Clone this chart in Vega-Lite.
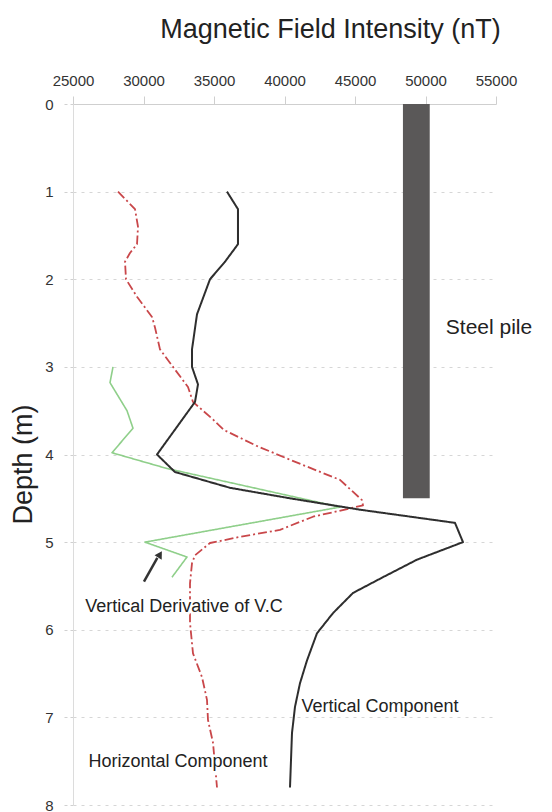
{
  "$schema": "https://vega.github.io/schema/vega-lite/v6.json",
  "autosize": {"type": "none"},
  "width": 423,
  "height": 701,
  "padding": {"left": 73, "top": 104, "right": 56, "bottom": 7},
  "background": "white",
  "config": {
    "view": {"stroke": null},
    "font": "Liberation Sans",
    "axis": {"labelFont": "Liberation Sans", "titleFont": "Liberation Sans", "labelColor": "#333", "titleColor": "#222", "titleFontWeight": "normal"}
  },
  "datasets": {
    "curves": [
      {"series": "Vertical Derivative of V.C", "depth": 3.0, "nT": 27837},
      {"series": "Vertical Derivative of V.C", "depth": 3.18, "nT": 27624},
      {"series": "Vertical Derivative of V.C", "depth": 3.5, "nT": 28830},
      {"series": "Vertical Derivative of V.C", "depth": 3.7, "nT": 29255},
      {"series": "Vertical Derivative of V.C", "depth": 3.98, "nT": 27766},
      {"series": "Vertical Derivative of V.C", "depth": 4.16, "nT": 31667},
      {"series": "Vertical Derivative of V.C", "depth": 4.6, "nT": 43936},
      {"series": "Vertical Derivative of V.C", "depth": 5.0, "nT": 30106},
      {"series": "Vertical Derivative of V.C", "depth": 5.17, "nT": 33085},
      {"series": "Vertical Derivative of V.C", "depth": 5.4, "nT": 32021},
      {"series": "Horizontal Component", "depth": 1.0, "nT": 28191},
      {"series": "Horizontal Component", "depth": 1.2, "nT": 29397},
      {"series": "Horizontal Component", "depth": 1.4, "nT": 29610},
      {"series": "Horizontal Component", "depth": 1.6, "nT": 29540},
      {"series": "Horizontal Component", "depth": 1.7, "nT": 29042},
      {"series": "Horizontal Component", "depth": 1.8, "nT": 28688},
      {"series": "Horizontal Component", "depth": 2.0, "nT": 28759},
      {"series": "Horizontal Component", "depth": 2.2, "nT": 29539},
      {"series": "Horizontal Component", "depth": 2.43, "nT": 30603},
      {"series": "Horizontal Component", "depth": 2.55, "nT": 30815},
      {"series": "Horizontal Component", "depth": 2.8, "nT": 31170},
      {"series": "Horizontal Component", "depth": 3.0, "nT": 32092},
      {"series": "Horizontal Component", "depth": 3.23, "nT": 33156},
      {"series": "Horizontal Component", "depth": 3.4, "nT": 33510},
      {"series": "Horizontal Component", "depth": 3.6, "nT": 34929},
      {"series": "Horizontal Component", "depth": 3.72, "nT": 35700},
      {"series": "Horizontal Component", "depth": 3.9, "nT": 38000},
      {"series": "Horizontal Component", "depth": 4.06, "nT": 40390},
      {"series": "Horizontal Component", "depth": 4.29, "nT": 43936},
      {"series": "Horizontal Component", "depth": 4.52, "nT": 45496},
      {"series": "Horizontal Component", "depth": 4.58, "nT": 45567},
      {"series": "Horizontal Component", "depth": 4.61, "nT": 44787},
      {"series": "Horizontal Component", "depth": 4.71, "nT": 42021},
      {"series": "Horizontal Component", "depth": 4.86, "nT": 39680},
      {"series": "Horizontal Component", "depth": 4.94, "nT": 36844},
      {"series": "Horizontal Component", "depth": 5.01, "nT": 34716},
      {"series": "Horizontal Component", "depth": 5.15, "nT": 33652},
      {"series": "Horizontal Component", "depth": 5.24, "nT": 33440},
      {"series": "Horizontal Component", "depth": 5.47, "nT": 33298},
      {"series": "Horizontal Component", "depth": 5.92, "nT": 33298},
      {"series": "Horizontal Component", "depth": 6.27, "nT": 33510},
      {"series": "Horizontal Component", "depth": 6.54, "nT": 34149},
      {"series": "Horizontal Component", "depth": 6.8, "nT": 34503},
      {"series": "Horizontal Component", "depth": 7.03, "nT": 34574},
      {"series": "Horizontal Component", "depth": 7.29, "nT": 34929},
      {"series": "Horizontal Component", "depth": 7.8, "nT": 35213},
      {"series": "Vertical Component", "depth": 1.0, "nT": 35920},
      {"series": "Vertical Component", "depth": 1.2, "nT": 36700},
      {"series": "Vertical Component", "depth": 1.6, "nT": 36700},
      {"series": "Vertical Component", "depth": 1.8, "nT": 35780},
      {"series": "Vertical Component", "depth": 2.0, "nT": 34716},
      {"series": "Vertical Component", "depth": 2.4, "nT": 33794},
      {"series": "Vertical Component", "depth": 2.8, "nT": 33440},
      {"series": "Vertical Component", "depth": 3.0, "nT": 33440},
      {"series": "Vertical Component", "depth": 3.2, "nT": 33865},
      {"series": "Vertical Component", "depth": 3.4, "nT": 33652},
      {"series": "Vertical Component", "depth": 4.0, "nT": 30957},
      {"series": "Vertical Component", "depth": 4.2, "nT": 32234},
      {"series": "Vertical Component", "depth": 4.38, "nT": 36134},
      {"series": "Vertical Component", "depth": 4.5, "nT": 40390},
      {"series": "Vertical Component", "depth": 4.63, "nT": 45354},
      {"series": "Vertical Component", "depth": 4.78, "nT": 52091},
      {"series": "Vertical Component", "depth": 5.0, "nT": 52659},
      {"series": "Vertical Component", "depth": 5.2, "nT": 49400},
      {"series": "Vertical Component", "depth": 5.4, "nT": 46985},
      {"series": "Vertical Component", "depth": 5.58, "nT": 44858},
      {"series": "Vertical Component", "depth": 5.81, "nT": 43440},
      {"series": "Vertical Component", "depth": 6.04, "nT": 42305},
      {"series": "Vertical Component", "depth": 6.35, "nT": 41595},
      {"series": "Vertical Component", "depth": 6.61, "nT": 41099},
      {"series": "Vertical Component", "depth": 6.88, "nT": 40744},
      {"series": "Vertical Component", "depth": 7.18, "nT": 40531},
      {"series": "Vertical Component", "depth": 7.8, "nT": 40390}
    ],
    "pile": [{"name": "Steel pile", "x1": 48400, "x2": 50300, "top": 0, "bottom": 4.5}],
    "labels": [
      {"label": "Steel pile", "nT": 54503, "depth": 2.56},
      {"label": "Vertical Derivative of V.C", "nT": 32872, "depth": 5.74},
      {"label": "Horizontal Component", "nT": 32447, "depth": 7.51},
      {"label": "Vertical Component", "nT": 46772, "depth": 6.88}
    ],
    "arrow": [{"nT": 30035, "depth": 5.45, "nT2": 30980, "depth2": 5.18, "hx": 31170, "hy": 5.14}]
  },
  "encoding": {
    "y": {
      "type": "quantitative",
      "scale": {"domain": [0, 8], "reverse": true, "nice": false},
      "axis": {
        "title": "Depth (m)",
        "titleFontSize": 27,
        "titleX": -36,
        "titleY": 360,
        "values": [0, 0.5, 1, 1.5, 2, 2.5, 3, 3.5, 4, 4.5, 5, 5.5, 6, 6.5, 7, 7.5, 8],
        "format": "d",
        "labelExpr": "datum.value % 1 == 0 ? datum.label : ''",
        "labelFlush": false,
        "labelFontSize": 15,
        "labelPadding": 10,
        "grid": true,
        "gridDash": [3, 5],
        "gridColor": "#d6d6d6",
        "gridOpacity": {"condition": {"test": "datum.value % 1 != 0", "value": 0}, "value": 1},
        "tickSize": {"condition": {"test": "datum.value % 1 != 0", "value": 4}, "value": 10},
        "tickColor": "#d0d0d0",
        "tickDash": {"condition": {"test": "datum.value % 1 != 0", "value": []}, "value": [3, 3]},
        "domainColor": "#dcdcdc"
      }
    }
  },
  "layer": [
    {
      "data": {"name": "pile"},
      "mark": {"type": "rect", "color": "#5a5858"},
      "encoding": {
        "x": {"field": "x1", "type": "quantitative", "scale": {"domain": [25000, 55000], "nice": false},
          "axis": {
            "orient": "top",
            "title": "Magnetic Field Intensity (nT)",
            "titleFontSize": 27,
            "titleX": 257,
            "titleY": -67,
            "titleAlign": "center",
            "titleBaseline": "alphabetic",
            "values": [25000, 27500, 30000, 32500, 35000, 37500, 40000, 42500, 45000, 47500, 50000, 52500, 55000],
            "format": "d",
            "labelExpr": "datum.value % 5000 == 0 ? datum.label : ''",
            "labelFlush": false,
            "labelFontSize": 15,
            "labelPadding": 8,
            "tickSize": 8,
            "tickColor": "#cfcfcf",
            "domainColor": "#cfcfcf",
            "grid": false
          }},
        "x2": {"field": "x2"},
        "y": {"field": "top", "type": "quantitative"},
        "y2": {"field": "bottom"}
      }
    },
    {
      "data": {"name": "curves"},
      "mark": {"type": "line", "strokeJoin": "round"},
      "encoding": {
        "x": {"field": "nT", "type": "quantitative"},
        "y": {"field": "depth", "type": "quantitative"},
        "order": {"field": "depth"},
        "color": {"field": "series", "type": "nominal", "legend": null,
          "scale": {"domain": ["Vertical Derivative of V.C", "Horizontal Component", "Vertical Component"], "range": ["#8fcf8a", "#c9474a", "#2e2e2e"]}},
        "strokeDash": {"field": "series", "type": "nominal", "legend": null,
          "scale": {"domain": ["Vertical Derivative of V.C", "Horizontal Component", "Vertical Component"], "range": [[1, 0], [9, 3, 2, 3], [1, 0]]}},
        "strokeWidth": {"field": "series", "type": "nominal", "legend": null,
          "scale": {"domain": ["Vertical Derivative of V.C", "Horizontal Component", "Vertical Component"], "range": [1.6, 2, 2.6]}}
      }
    },
    {
      "data": {"name": "arrow"},
      "mark": {"type": "rule", "color": "#333", "strokeWidth": 2.5},
      "encoding": {
        "x": {"field": "nT", "type": "quantitative"},
        "y": {"field": "depth", "type": "quantitative"},
        "x2": {"field": "nT2"},
        "y2": {"field": "depth2"}
      }
    },
    {
      "data": {"name": "arrow"},
      "mark": {"type": "point", "shape": "triangle-up", "filled": true, "color": "#333", "size": 70, "angle": 31, "opacity": 1},
      "encoding": {
        "x": {"field": "hx", "type": "quantitative"},
        "y": {"field": "hy", "type": "quantitative"}
      }
    },
    {
      "data": {"name": "labels"},
      "transform": [{"filter": "datum.label == 'Steel pile'"}],
      "mark": {"type": "text", "fontSize": 21, "color": "#222", "align": "center", "baseline": "middle", "font": "Liberation Sans"},
      "encoding": {
        "x": {"field": "nT", "type": "quantitative"},
        "y": {"field": "depth", "type": "quantitative"},
        "text": {"field": "label"}
      }
    },
    {
      "data": {"name": "labels"},
      "transform": [{"filter": "datum.label == 'Horizontal Component' || datum.label == 'Vertical Derivative of V.C'"}],
      "mark": {"type": "text", "fontSize": 18, "color": "white", "stroke": "white", "strokeWidth": 5, "align": "center", "baseline": "middle", "font": "Liberation Sans"},
      "encoding": {
        "x": {"field": "nT", "type": "quantitative"},
        "y": {"field": "depth", "type": "quantitative"},
        "text": {"field": "label"}
      }
    },
    {
      "data": {"name": "labels"},
      "transform": [{"filter": "datum.label != 'Steel pile'"}],
      "mark": {"type": "text", "fontSize": 18, "color": "#222", "align": "center", "baseline": "middle", "font": "Liberation Sans"},
      "encoding": {
        "x": {"field": "nT", "type": "quantitative"},
        "y": {"field": "depth", "type": "quantitative"},
        "text": {"field": "label"}
      }
    }
  ]
}
